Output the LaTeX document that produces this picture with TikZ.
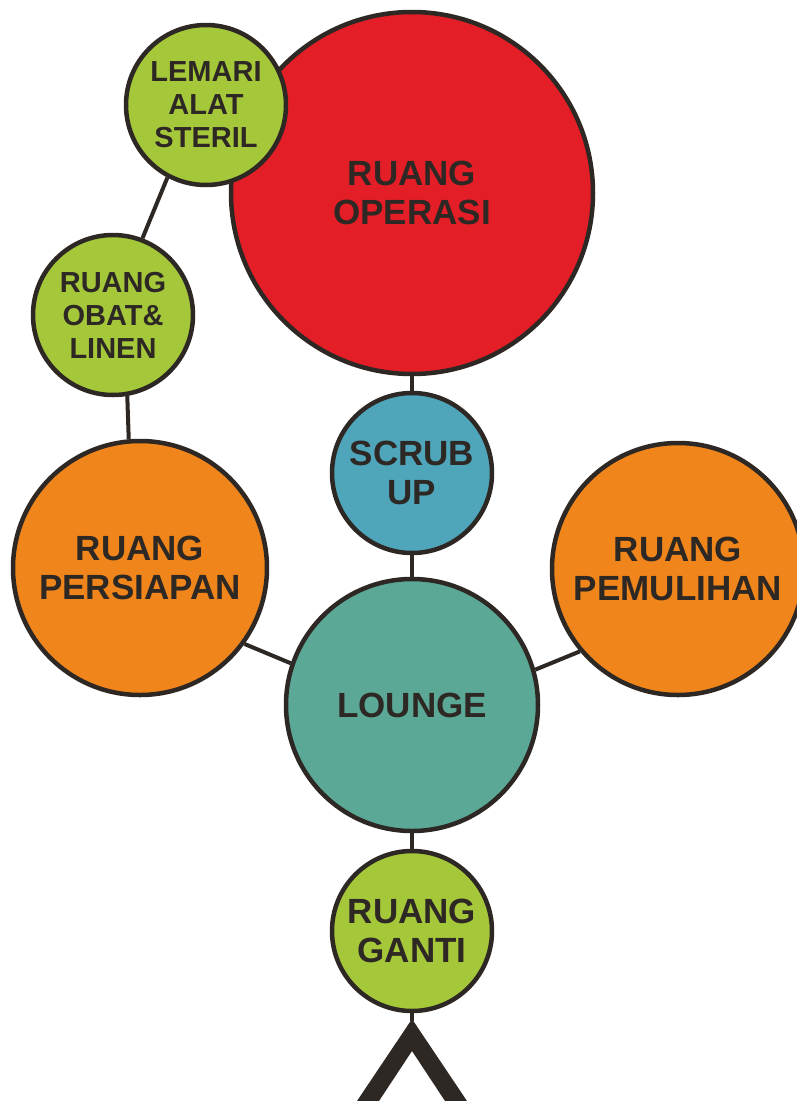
\documentclass[tikz,border=0pt]{standalone}
\usepackage{fontspec}
\setmainfont{Liberation Sans}
\definecolor{outline}{HTML}{2E2825}
\definecolor{opred}{HTML}{E41E26}
\definecolor{lime}{HTML}{A5C83A}
\definecolor{orng}{HTML}{F0861B}
\definecolor{scrubblue}{HTML}{4FA5B9}
\definecolor{loungeteal}{HTML}{5BA897}
\begin{document}
\begin{tikzpicture}[x=1pt, y=-1pt,
  room/.style={circle, draw=outline, line width=4.5pt, inner sep=0pt, align=center,
    text=outline, font=\bfseries\fontsize{35}{39}\selectfont},
  smallroom/.style={room, font=\bfseries\fontsize{29}{33}\selectfont},
  link/.style={draw=outline, line width=4pt}]
  \clip (0,0) rectangle (797,1101);
  \node[room, fill=opred, minimum size=362pt] (operasi) at (412,193) {RUANG\\OPERASI};
  \node[smallroom, fill=lime, minimum size=160pt] (lemari) at (206,105) {LEMARI\\ALAT\\STERIL};
  \node[smallroom, fill=lime, minimum size=160pt] (obat) at (113,315) {RUANG\\OBAT\&\\LINEN};
  \node[room, fill=scrubblue, minimum size=160pt] (scrub) at (412,473) {SCRUB\\UP};
  \node[room, fill=orng, minimum size=254pt] (persiapan) at (140,568) {RUANG\\PERSIAPAN};
  \node[room, fill=orng, minimum size=252pt] (pemulihan) at (678,569) {RUANG\\PEMULIHAN};
  \node[room, fill=loungeteal, minimum size=252pt] (lounge) at (412,705) {LOUNGE};
  \node[room, fill=lime, minimum size=160pt] (ganti) at (412,931) {RUANG\\GANTI};
  \coordinate (entry) at (412,1021);
  \draw[link] (operasi) -- (scrub);
  \draw[link] (scrub) -- (lounge);
  \draw[link] (lounge) -- (ganti);
  \draw[link] (ganti) -- (entry);
  \draw[link] (lemari.242) -- (obat.69);
  \draw[link] (obat.-80) -- (persiapan.95);
  \draw[link] (persiapan.-36) -- (lounge.161);
  \draw[link] (lounge.16) -- (pemulihan.220);
  \fill[outline] (412,1019) -- (467,1101) -- (445,1101) -- (412,1051) -- (379,1101) -- (357,1101) -- cycle;
\end{tikzpicture}
\end{document}
